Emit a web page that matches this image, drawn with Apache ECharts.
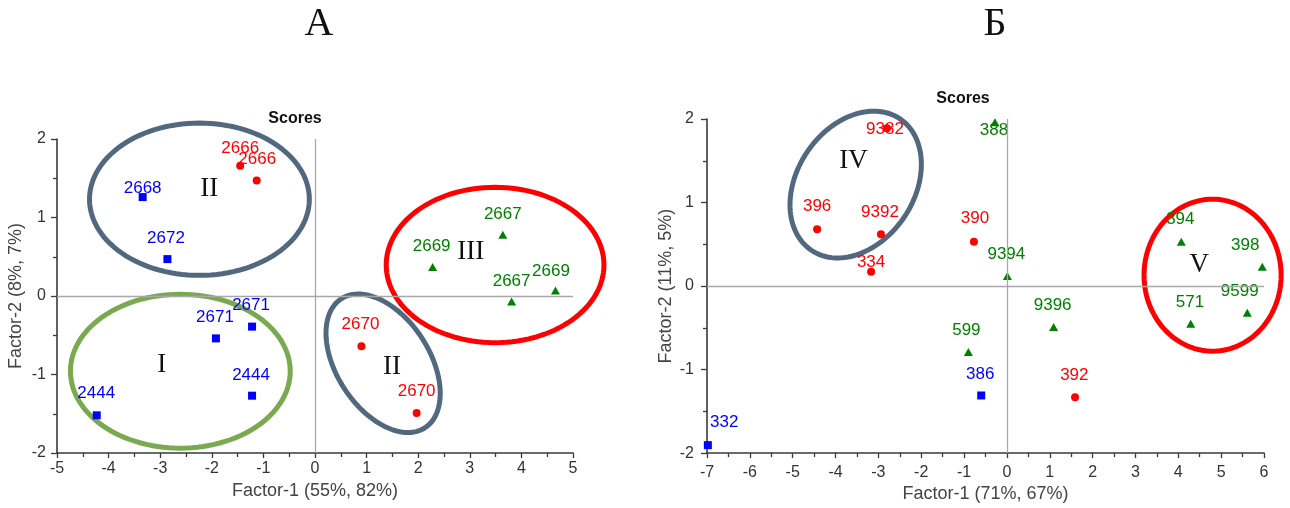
<!DOCTYPE html>
<html>
<head>
<meta charset="utf-8">
<script src="https://cdn.jsdelivr.net/npm/echarts@6/dist/echarts.min.js"></script>
<style>
  html, body { margin: 0; padding: 0; background: #fff; }
  #chart { width: 1290px; height: 508px; }
</style>
</head>
<body>
<div id="chart"></div>
<script>
// ---- Panel А: scores on Factor-1 / Factor-2 ----
const aBlueNames = ['2668', '2672', '2671', '2671', '2444', '2444'];
const aBlueF1 = [-3.34, -2.86, -1.92, -1.22, -1.22, -4.23];
const aBlueF2 = [1.26, 0.47, -0.54, -0.39, -1.27, -1.52];

const aRedNames = ['2666', '2666', '2670', '2670'];
const aRedF1 = [-1.45, -1.13, 0.90, 1.97];
const aRedF2 = [1.66, 1.47, -0.64, -1.49];

const aGreenNames = ['2667', '2669', '2667', '2669'];
const aGreenF1 = [3.64, 2.28, 3.81, 4.66];
const aGreenF2 = [0.78, 0.37, -0.07, 0.07];

const aXTicks = [-5, 5, 1];
const aYTicks = [-2, 2, 1];

// ---- Panel Б ----
const bRedNames = ['9382', '396', '9392', '334', '390', '392'];
const bRedF1 = [-2.80, -4.43, -2.94, -3.17, -0.77, 1.59];
const bRedF2 = [1.89, 0.68, 0.62, 0.17, 0.53, -1.33];

const bGreenNames = ['388', '9394', '394', '398', '571', '9599', '9396', '599'];
const bGreenF1 = [-0.28, 0.01, 4.07, 5.96, 4.29, 5.61, 1.09, -0.90];
const bGreenF2 = [1.96, 0.12, 0.53, 0.23, -0.45, -0.32, -0.49, -0.79];

const bBlueNames = ['386', '332'];
const bBlueF1 = [-0.60, -6.98];
const bBlueF2 = [-1.31, -1.905];

const bXTicks = [-7, 6, 1];
const bYTicks = [-2, 2, 1];

// Group outlines: centre (F1, F2), semi-axes in axis units, tilt in degrees
const aGroups = [
  { c: [-2.24, 1.233], r: [2.13, 0.97], tilt: 0, color: '#52687f', tag: 'II', tagAt: [-2.05, 1.37] },
  { c: [-2.61, -0.958], r: [2.13, 0.98], tilt: 0, color: '#7aaa4f', tag: 'I', tagAt: [-2.97, -0.88] },
  { c: [3.49, 0.395], r: [2.11, 0.99], tilt: 0, color: '#ff0000', tag: 'III', tagAt: [3.02, 0.565] },
  { c: [1.32, -0.857], r: [1.49, 0.59], tilt: 57, color: '#52687f', tag: 'II', tagAt: [1.49, -0.90] }
];
const bGroups = [
  { c: [-3.53, 1.215], r: [1.85, 0.70], tilt: -56, color: '#52687f', tag: 'IV', tagAt: [-3.58, 1.50] },
  { c: [4.80, 0.13], r: [1.60, 0.91], tilt: 0, color: '#ff0000', tag: 'V', tagAt: [4.49, 0.25] }
];

// Label placement (text centre relative to marker centre, px)
const DEF = [-1, -21.5];
const aBlueLab = [[0, -8.5], [-1.5, -21], DEF, DEF, [-1, -20.5], [-0.5, -21.6]];
const aRedLab = [[0, -17], [0.5, -21], [-1, -21.5], [0, -21.5]];
const aGreenLab = [[0, -20.3], [-1, -20.3], [0, -20.4], [-4.5, -19.5]];
const bRedLab = [[-2, 1], [0, -22.7], [-1, -22], [0, -9.6], [1, -23], [-0.7, -22]];
const bGreenLab = [[-1, 8], [-1, -21.7], [-1, -22], [-17, -22], [-0.7, -21.2], [-7.6, -21], [-1, -22], [-2, -22]];
const bBlueLab = [[-1, -21.3], [16.3, -22.4]];

const SANS = 'Liberation Sans';
const SERIF = 'Liberation Serif';
const BLUE = '#0000ff', RED = '#ff0000', GREEN = '#008000';

function points(names, xs, ys, offs) {
  return names.map((n, i) => ({
    name: n,
    value: [xs[i], ys[i]],
    label: { offset: offs[i] }
  }));
}

function scatter(idx, names, xs, ys, offs, symbol, size, color) {
  return {
    type: 'scatter',
    xAxisIndex: idx, yAxisIndex: idx,
    symbol: symbol, symbolSize: size,
    itemStyle: { color: color, opacity: 1 },
    z: 4,
    label: {
      show: true, position: 'inside', formatter: '{b}',
      color: color, fontSize: 17, fontFamily: SANS
    },
    emphasis: { disabled: true },
    data: points(names, xs, ys, offs)
  };
}

function outlines(idx, groups) {
  return {
    type: 'custom',
    xAxisIndex: idx, yAxisIndex: idx,
    z: 2, silent: true, clip: false,
    data: groups.map(g => [g.c[0], g.c[1], g.r[0], g.r[1], g.tilt]),
    renderItem: function (params, api) {
      const g = groups[params.dataIndex];
      const c = api.coord([api.value(0), api.value(1)]);
      const sx = api.size([api.value(2), 0])[0];
      const sy = api.size([0, api.value(3)])[1];
      const th = api.value(4) * Math.PI / 180;
      const pts = [];
      for (let i = 0; i < 120; i++) {
        const t = i / 120 * Math.PI * 2;
        const x = sx * Math.cos(t), y = sy * Math.sin(t);
        pts.push([c[0] + x * Math.cos(th) - y * Math.sin(th),
                  c[1] + x * Math.sin(th) + y * Math.cos(th)]);
      }
      const tp = api.coord(g.tagAt);
      return {
        type: 'group',
        children: [
          { type: 'polygon', shape: { points: pts },
            style: { fill: 'none', stroke: g.color, lineWidth: 5 } },
          { type: 'text', x: tp[0], y: tp[1],
            style: { text: g.tag, fontSize: 27, fontFamily: SERIF, fill: '#111',
                     align: 'center', verticalAlign: 'middle' } }
        ]
      };
    }
  };
}

function zeroLines(idx) {
  return {
    type: 'scatter', xAxisIndex: idx, yAxisIndex: idx, data: [], z: 1,
    markLine: {
      silent: true, symbol: 'none', label: { show: false },
      lineStyle: { color: '#a8a8a8', width: 1.3, type: 'solid' },
      data: [{ xAxis: 0 }, { yAxis: 0 }]
    }
  };
}

function xAxis(idx, t, name, gap, margin) {
  return {
    gridIndex: idx, type: 'value', min: t[0], max: t[1], interval: t[2],
    name: name, nameLocation: 'middle', nameGap: gap,
    nameTextStyle: { fontSize: 18, fontFamily: SANS, color: '#444' },
    axisLine: { show: true, onZero: false, lineStyle: { color: '#3a3a3a', width: 1.6 } },
    axisTick: { show: true, length: 5, lineStyle: { color: '#3a3a3a', width: 1.3 } },
    minorTick: { show: true, splitNumber: 2, length: 4, lineStyle: { color: '#3a3a3a', width: 1.3 } },
    splitLine: { show: false },
    axisLabel: { fontSize: 16, fontFamily: SANS, color: '#333', margin: margin }
  };
}

function yAxis(idx, t, name, gap, margin) {
  return {
    gridIndex: idx, type: 'value', min: t[0], max: t[1], interval: t[2],
    name: name, nameLocation: 'middle', nameGap: gap, nameRotate: 90,
    nameTextStyle: { fontSize: 18, fontFamily: SANS, color: '#444' },
    axisLine: { show: true, onZero: false, lineStyle: { color: '#3a3a3a', width: 1.6 } },
    axisTick: { show: true, length: 6, lineStyle: { color: '#3a3a3a', width: 1.3 } },
    minorTick: { show: true, splitNumber: 2, length: 4, lineStyle: { color: '#3a3a3a', width: 1.3 } },
    splitLine: { show: false },
    axisLabel: { fontSize: 16, fontFamily: SANS, color: '#333', margin: margin }
  };
}

const chart = echarts.init(document.getElementById('chart'), null, { renderer: 'canvas' });

chart.setOption({
  animation: false,
  backgroundColor: '#fff',
  textStyle: { fontFamily: SANS },
  grid: [
    { left: 57, right: 717, top: 139, bottom: 55 },
    { left: 707, right: 26, top: 119, bottom: 51 }
  ],
  graphic: [
    { type: 'text', x: 319, y: 24, style: { text: 'А', fontSize: 40, fontFamily: SERIF, fill: '#111', align: 'center', verticalAlign: 'middle' } },
    { type: 'text', x: 995, y: 24, style: { text: 'Б', fontSize: 40, fontFamily: SERIF, fill: '#111', align: 'center', verticalAlign: 'middle' } },
    { type: 'text', x: 295, y: 119, style: { text: 'Scores', fontSize: 16, fontWeight: 'bold', fontFamily: SANS, fill: '#111', align: 'center', verticalAlign: 'middle' } },
    { type: 'text', x: 963, y: 99, style: { text: 'Scores', fontSize: 16, fontWeight: 'bold', fontFamily: SANS, fill: '#111', align: 'center', verticalAlign: 'middle' } }
  ],
  xAxis: [
    xAxis(0, aXTicks, 'Factor-1 (55%, 82%)', 27, 8),
    xAxis(1, bXTicks, 'Factor-1 (71%, 67%)', 30, 11)
  ],
  yAxis: [
    yAxis(0, aYTicks, 'Factor-2 (8%, 7%)', 32, 11),
    yAxis(1, bYTicks, 'Factor-2 (11%, 5%)', 32, 13)
  ],
  series: [
    zeroLines(0),
    zeroLines(1),
    outlines(0, aGroups),
    outlines(1, bGroups),
    scatter(0, aBlueNames, aBlueF1, aBlueF2, aBlueLab, 'rect', 8, BLUE),
    scatter(0, aRedNames, aRedF1, aRedF2, aRedLab, 'circle', 8, RED),
    scatter(0, aGreenNames, aGreenF1, aGreenF2, aGreenLab, 'triangle', [9, 8], GREEN),
    scatter(1, bRedNames, bRedF1, bRedF2, bRedLab, 'circle', 8, RED),
    scatter(1, bGreenNames, bGreenF1, bGreenF2, bGreenLab, 'triangle', [9, 8], GREEN),
    scatter(1, bBlueNames, bBlueF1, bBlueF2, bBlueLab, 'rect', 8, BLUE)
  ]
});
</script>
</body>
</html>
